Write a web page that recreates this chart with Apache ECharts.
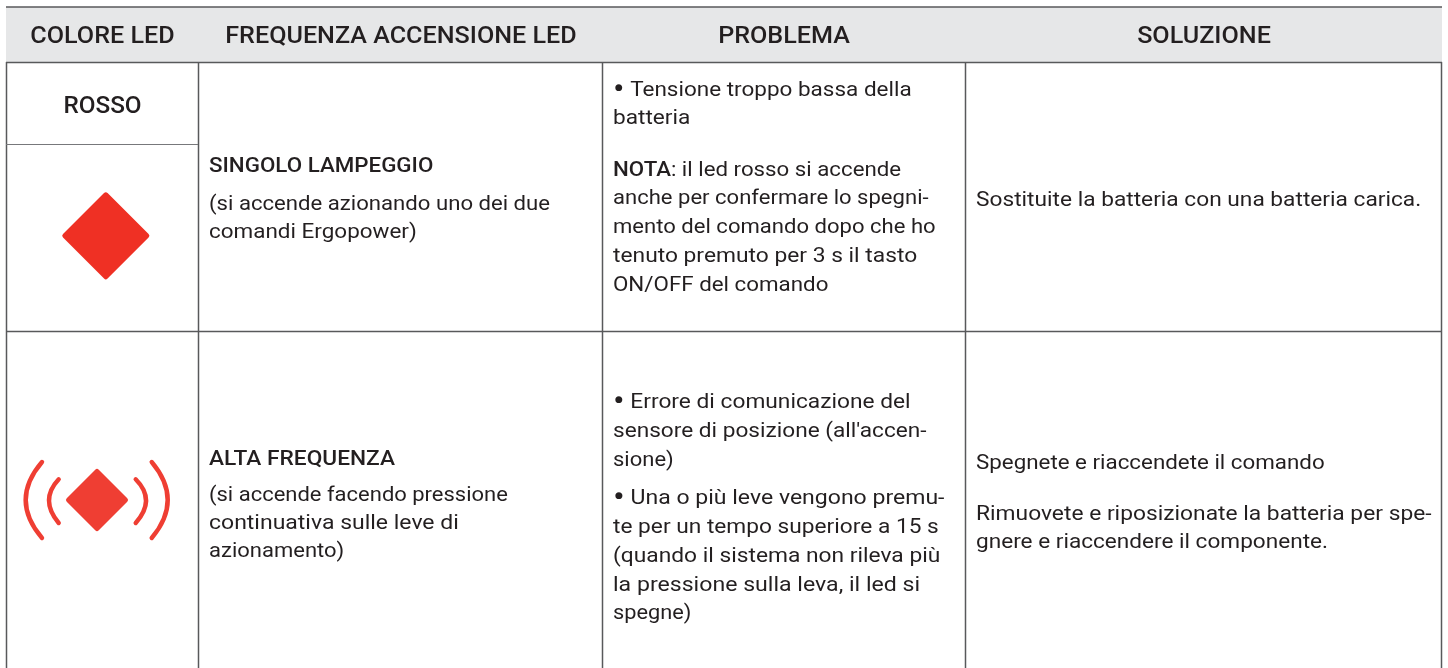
<!DOCTYPE html>
<html><head><meta charset="utf-8">
<style>html,body{margin:0;padding:0;background:#fff}#c{width:1448px;height:668px}</style>
<script src="https://cdn.jsdelivr.net/npm/echarts@6/dist/echarts.min.js"></script>
</head><body><div id="c"></div>
<script>
const headers = ['COLORE LED','FREQUENZA ACCENSIONE LED','PROBLEMA','SOLUZIONE'];
const ledColor = 'ROSSO';
const frequencyRow1 = ['{m|SINGOLO LAMPEGGIO}','(si accende azionando uno dei due','comandi Ergopower)'];
const frequencyRow2 = ['{m|ALTA FREQUENZA}','(si accende facendo pressione','continuativa sulle leve di','azionamento)'];
const problemRow1 = ['{b|•} Tensione troppo bassa della','batteria','{m|NOTA}: il led rosso si accende','anche per confermare lo spegni-','mento del comando dopo che ho','tenuto premuto per 3 s il tasto','ON/OFF del comando'];
const problemRow2 = ["{b|•} Errore di comunicazione del","sensore di posizione (all'accen-",'sione)','{b|•} Una o più leve vengono premu-','te per un tempo superiore a 15 s','(quando il sistema non rileva più','la pressione sulla leva, il led si','spegne)'];
const solutionRow1 = ['Sostituite la batteria con una batteria carica.'];
const solutionRow2 = ['Spegnete e riaccendete il comando','Rimuovete e riposizionate la batteria per spe-','gnere e riaccendere il componente.'];

const FONT = 'Roboto', SIZE = 21, SX = 1.064, INK = '#231f20';
const els = [];
function txt(s, x, y, o) {
  o = o || {};
  els.push({type:'text', x, y, z:5, scaleX:o.sx||SX, style:{
    text:s, x:0, y:0, fill:INK, font:(o.weight||400)+' '+(o.size||SIZE)+'px '+FONT,
    align:o.align||'left', verticalAlign:'middle',
    rich:{m:{fontFamily:FONT,fontSize:SIZE,fontWeight:500,fill:INK},
          b:{fontFamily:FONT,fontSize:32,fontWeight:400,fill:INK,lineHeight:24}}
  }});
}
function line(x1,y1,x2,y2,c,w){els.push({type:'line',z:3,shape:{x1,y1,x2,y2},style:{stroke:c||'#58595b',lineWidth:w||1.5}});}
function block(lines, x, ys, fit){lines.forEach((t,i)=>txt(t,x,ys[i]+2,{sx:SX*fit[i]}));}
function diamond(cx,cy,h,color){
  const r=2.5,a=h-r;
  els.push({type:'polygon',z:4,shape:{points:[[cx,cy-a],[cx+a,cy],[cx,cy+a],[cx-a,cy]]},style:{fill:color,stroke:color,lineWidth:r*2,lineJoin:'round'}});
}
function arc(x0,y0,cx,ym,y1,color){
  els.push({type:'bezierCurve',z:4,shape:{x1:x0,y1:y0,x2:x0,y2:y1,cpx1:cx,cpy1:ym},style:{fill:null,stroke:color,lineWidth:4.4,lineCap:'round'}});
}

els.push({type:'rect',z:1,shape:{x:6,y:7,width:1436,height:55},style:{fill:'#e6e7e8'}});
line(6,7,1442,7); line(6,62.5,1442,62.5);
[6.5,198.5,602.5,965.5,1441.5].forEach(x=>line(x,62,x,668));
line(6,144.5,198,144.5,'#77787b',1.2); line(6,331.5,1442,331.5);

[102.5,401,784,1204].forEach((x,i)=>txt(headers[i],x,37,{align:'center',weight:500,size:23.5,sx:1.07}));
txt(ledColor,102.5,107,{align:'center',weight:500,size:23,sx:1.057});

block(frequencyRow1,209,[165,203,231],[1,.991,1.005]);
block(frequencyRow2,209,[458,494,522,550],[1.016,.984,1.029,.985]);
block(problemRow1,613,[89,117,169,197,226,255,284],[1.007,1.013,.997,.987,.988,1.02,1]);
block(problemRow2,613,[401,430,459,497,526,555,584,612],[1.017,1.013,.984,1.031,1.016,1.019,1.034,.975]);
block(solutionRow1,976,[199],[1.016]);
block(solutionRow2,976,[462,513,541],[1,1.02,1.011]);

diamond(105.8,235.8,43.5,'#ef3024');
const c2='#ef3e33';
diamond(97,500,31,c2);
arc(42,462,9.4,500,538,c2); arc(58.7,479.3,39.3,500,523,c2);
arc(151.7,462,183.7,500,538,c2); arc(135.7,479.3,156.3,500,523,c2);

const chart = echarts.init(document.getElementById('c'),null,{renderer:'canvas'});
chart.setOption({animation:false,backgroundColor:'#fff',graphic:{elements:els}});
</script></body></html>
